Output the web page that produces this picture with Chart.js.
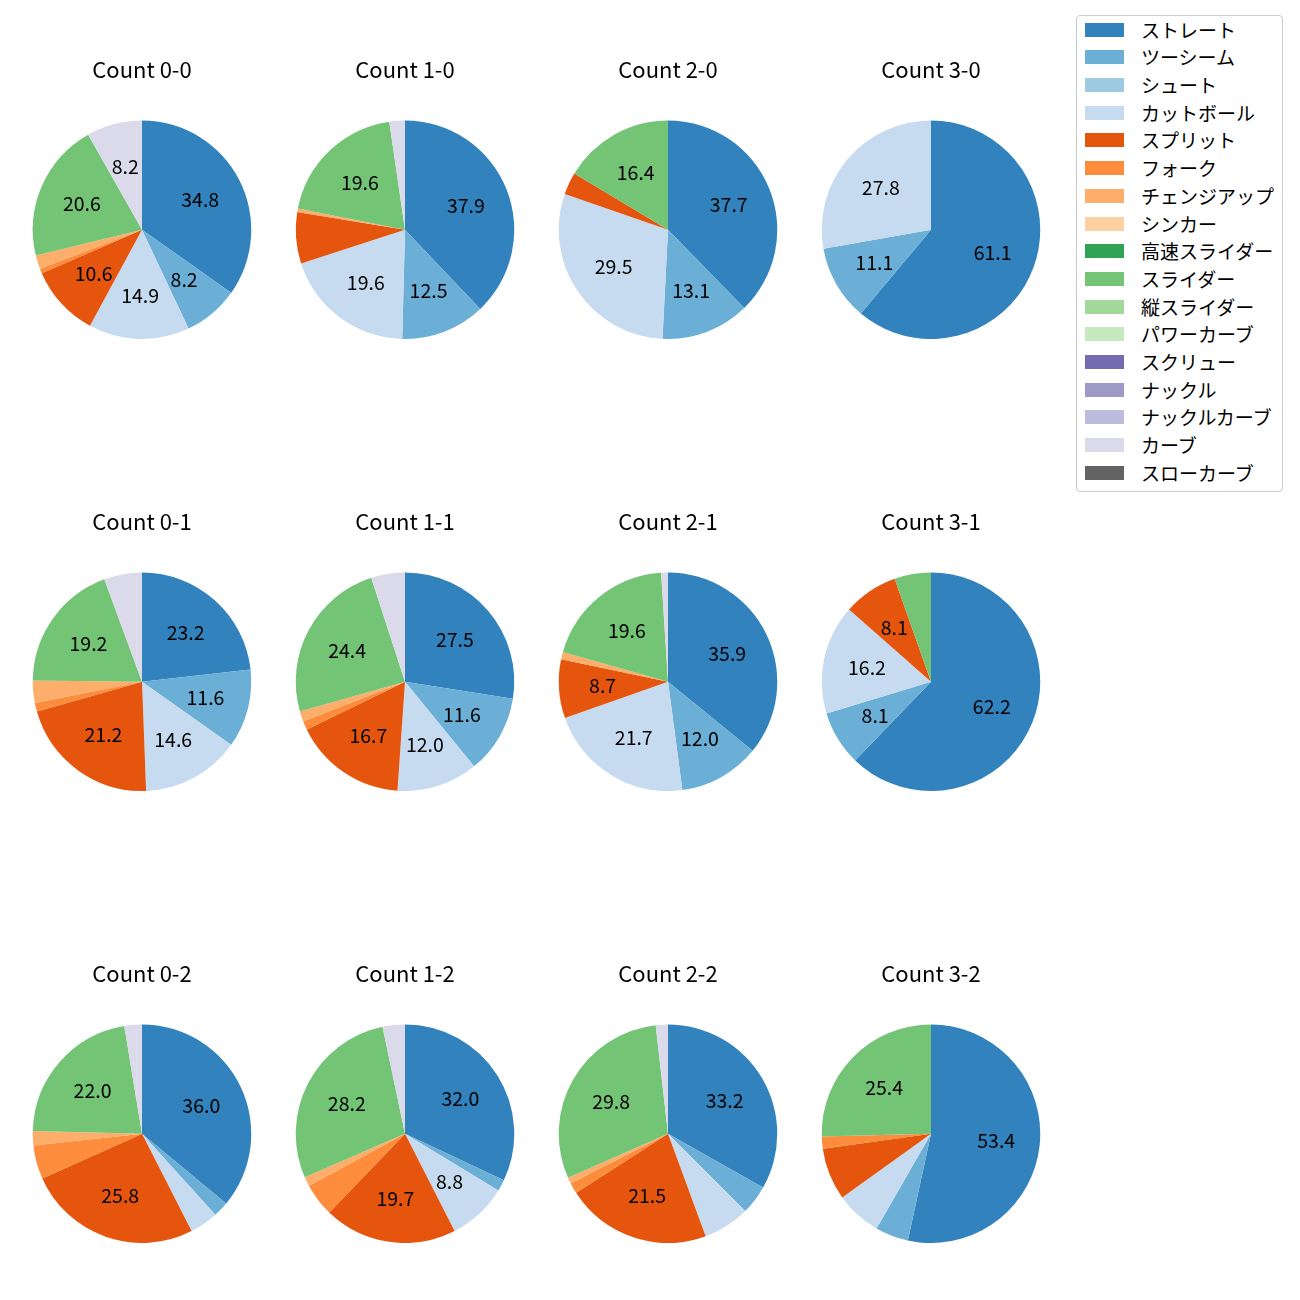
<!DOCTYPE html>
<html>
<head>
<meta charset="utf-8">
<script src="https://cdn.jsdelivr.net/npm/chart.js"></script>
<style>
  body { margin: 0; background: #fff; }
  #wrap { position: relative; width: 1300px; height: 1300px; }
  canvas { position: absolute; }
  #legend {
    position: absolute; left: 1076px; top: 15px; width: 207px; height: 477px;
    border: 1px solid #cccccc; border-radius: 4px; box-sizing: border-box;
    font-family: "Noto Sans CJK JP", sans-serif; font-size: 19px; color: #000;
  }
  .item { position: absolute; left: 0; height: 20px; width: 100%; }
  .sw { position: absolute; left: 8px; top: 3px; width: 39px; height: 14px; }
  .lbl { position: absolute; left: 64px; top: -4px; white-space: nowrap; }
</style>
</head>
<body>
<div id="wrap">
  <div id="legend"></div>
</div>
<script>
var pitchTypes = ["ストレート", "ツーシーム", "シュート", "カットボール", "スプリット", "フォーク", "チェンジアップ", "シンカー", "高速スライダー", "スライダー", "縦スライダー", "パワーカーブ", "スクリュー", "ナックル", "ナックルカーブ", "カーブ", "スローカーブ"];
var colors = ["#3182bd", "#6baed6", "#9ecae1", "#c6dbef", "#e6550d", "#fd8d3c", "#fdae6b", "#fdd0a2", "#31a354", "#74c476", "#a1d99b", "#c7e9c0", "#756bb1", "#9e9ac8", "#bcbddc", "#dadaeb", "#636363"];

var counts = ["0-0", "1-0", "2-0", "3-0", "0-1", "1-1", "2-1", "3-1", "0-2", "1-2", "2-2", "3-2"];

// percentages per pitch type, same order as pitchTypes
var c00 = [34.8, 8.2, 0, 14.9, 10.6, 0.7, 2.0, 0, 0, 20.6, 0, 0, 0, 0, 0, 8.2, 0];
var c10 = [37.9, 12.5, 0, 19.6, 7.6, 0, 0.5, 0, 0, 19.6, 0, 0, 0, 0, 0, 2.3, 0];
var c20 = [37.7, 13.1, 0, 29.5, 3.3, 0, 0, 0, 0, 16.4, 0, 0, 0, 0, 0, 0, 0];
var c30 = [61.1, 11.1, 0, 27.8, 0, 0, 0, 0, 0, 0, 0, 0, 0, 0, 0, 0, 0];
var c01 = [23.2, 11.6, 0, 14.6, 21.2, 1.3, 3.3, 0, 0, 19.2, 0, 0, 0, 0, 0, 5.6, 0];
var c11 = [27.5, 11.6, 0, 12.0, 16.7, 1.3, 1.5, 0, 0, 24.4, 0, 0, 0, 0, 0, 5.0, 0];
var c21 = [35.9, 12.0, 0, 21.7, 8.7, 0, 1.1, 0, 0, 19.6, 0, 0, 0, 0, 0, 1.0, 0];
var c31 = [62.2, 8.1, 0, 16.2, 8.1, 0, 0, 0, 0, 5.4, 0, 0, 0, 0, 0, 0, 0];
var c02 = [36.0, 2.3, 0, 4.2, 25.8, 5.0, 2.1, 0, 0, 22.0, 0, 0, 0, 0, 0, 2.6, 0];
var c12 = [32.0, 1.7, 0, 8.8, 19.7, 4.9, 1.4, 0, 0, 28.2, 0, 0, 0, 0, 0, 3.3, 0];
var c22 = [33.2, 4.3, 0, 6.9, 21.5, 1.6, 0.9, 0, 0, 29.8, 0, 0, 0, 0, 0, 1.8, 0];
var c32 = [53.4, 4.9, 0, 6.8, 7.7, 1.8, 0, 0, 0, 25.4, 0, 0, 0, 0, 0, 0, 0];

var countValues = [c00, c10, c20, c30, c01, c11, c21, c31, c02, c12, c22, c32];

var FONT = '"Noto Sans CJK JP", sans-serif';

// percent labels inside the slices, like autopct
var pctLabels = {
  id: 'pctLabels',
  afterDatasetsDraw: function(chart) {
    var ctx = chart.ctx;
    var data = chart.data.datasets[0].data;
    var total = data.reduce(function(a, b) { return a + b; }, 0);
    var meta = chart.getDatasetMeta(0);
    ctx.save();
    ctx.font = '19.5px ' + FONT;
    ctx.fillStyle = '#000';
    ctx.textAlign = 'center';
    ctx.textBaseline = 'middle';
    meta.data.forEach(function(arc, i) {
      var pct = data[i] / total * 100;
      if (pct < 8) return;
      var p = arc.getProps(['x', 'y', 'startAngle', 'endAngle', 'outerRadius'], true);
      var mid = (p.startAngle + p.endAngle) / 2;
      var r = p.outerRadius * 0.6;
      ctx.fillText(pct.toFixed(1), p.x + Math.cos(mid) * r, p.y + Math.sin(mid) * r);
    });
    ctx.restore();
  }
};

var wrap = document.getElementById('wrap');

counts.forEach(function(cnt, k) {
  var col = k % 4, row = Math.floor(k / 4);
  var cx = 141.5 + col * 263;
  var cy = 229.5 + row * 452.3;
  var canvas = document.createElement('canvas');
  canvas.width = 240;
  canvas.height = 299;
  canvas.style.left = (cx - 120) + 'px';
  canvas.style.top = (cy - 190) + 'px';
  wrap.appendChild(canvas);

  new Chart(canvas.getContext('2d'), {
    type: 'pie',
    data: {
      labels: pitchTypes,
      datasets: [{
        data: countValues[k],
        backgroundColor: colors,
        borderWidth: 0
      }]
    },
    options: {
      responsive: false,
      animation: false,
      devicePixelRatio: 1,
      layout: { padding: 0 },
      plugins: {
        legend: { display: false },
        tooltip: { enabled: false },
        title: {
          display: true,
          text: 'Count ' + cnt,
          color: '#000',
          font: { family: FONT, size: 22, weight: 'normal', lineHeight: 1.2 },
          padding: { top: 16.8, bottom: 37.3 }
        }
      }
    },
    plugins: [pctLabels]
  });
});

// legend
var legend = document.getElementById('legend');
pitchTypes.forEach(function(name, i) {
  var item = document.createElement('div');
  item.className = 'item';
  item.style.top = (3.6 + i * 27.7) + 'px';
  item.innerHTML = '<span class="sw" style="background:' + colors[i] + '"></span><span class="lbl">' + name + '</span>';
  legend.appendChild(item);
});
</script>
</body>
</html>
